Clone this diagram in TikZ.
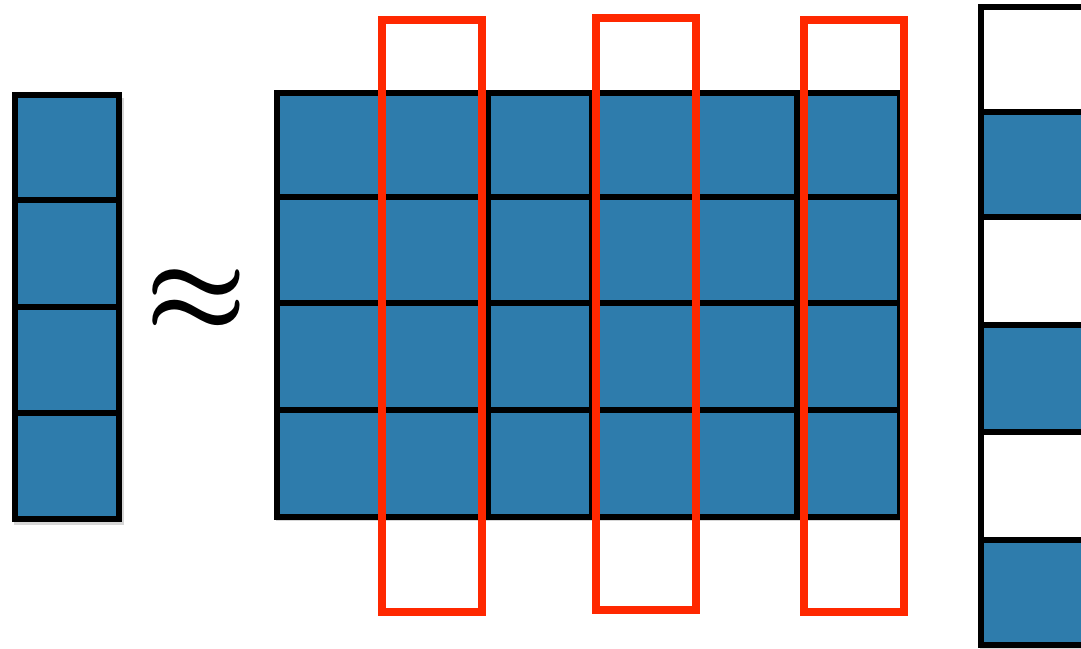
\RequirePackage{fix-cm}
\documentclass[tikz,border=0pt]{standalone}
\definecolor{cellblue}{RGB}{46,124,172}
\definecolor{selred}{RGB}{255,40,0}
\begin{document}
\begin{tikzpicture}[x=1pt,y=-1pt,
  cell/.style={fill=cellblue,draw=black,line width=5.5pt},
  blank/.style={fill=white,draw=black,line width=5.5pt},
  sel/.style={draw=selred,line width=8pt},
  shade/.style={fill=black,opacity=0.16},
  bigsym/.style={inner sep=0pt,font=\fontsize{114}{114}\selectfont\mathversion{bold}}]
\useasboundingbox (0,0) rectangle (1081,648);
% shadows
\fill[shade] (14,98) rectangle (124,525);
\fill[shade] (276,96) rectangle (904,521);
\fill[shade] (980,10) rectangle (1081,650);
% left column
\foreach \ya/\yb in {95/200,200/307,307/413,413/519}
  \draw[cell] (15,\ya) rectangle (119,\yb);
% matrix
\foreach \xa/\xb in {277/383,383/488,488/592,592/695,695/797,797/900}
  \foreach \ya/\yb in {93/197,197/303,303/410,410/517}
    \draw[cell] (\xa,\ya) rectangle (\xb,\yb);
% approx sign
\node[bigsym] (approx) at (196,301) {$\approx$};
% selection rectangles
\draw[sel] (382,20) rectangle (482,612);
\draw[sel] (596,18) rectangle (696,610);
\draw[sel] (804,20) rectangle (904,612);
% right column
\foreach \ya/\yb in {7/112,217/325,432/540}
  \draw[blank] (981,\ya) rectangle (1110,\yb);
\foreach \ya/\yb in {112/217,325/432,540/645}
  \draw[cell] (981,\ya) rectangle (1110,\yb);
\end{tikzpicture}
\end{document}
